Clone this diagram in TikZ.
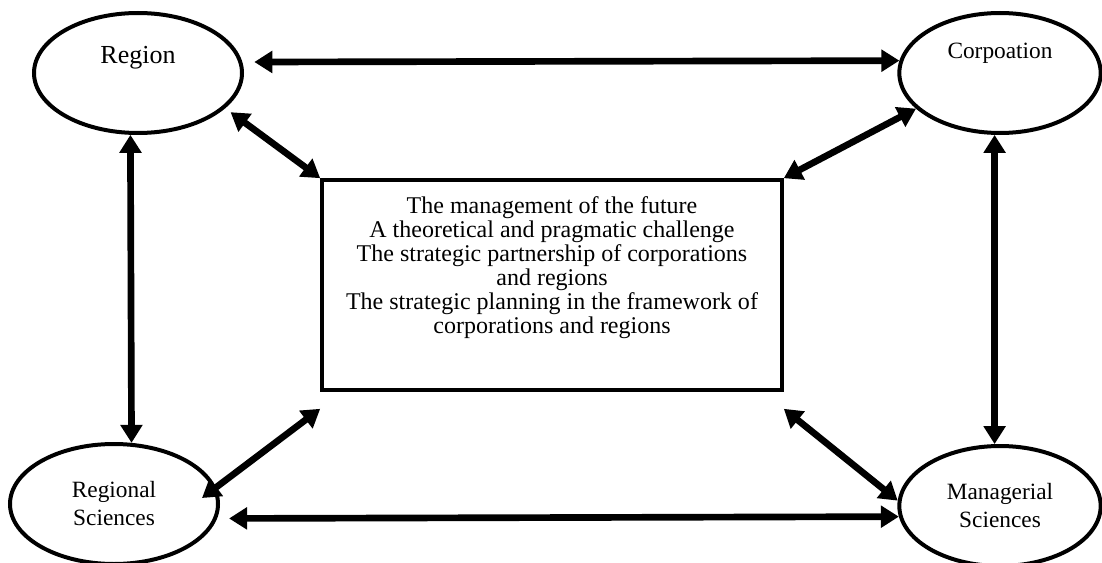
\documentclass[tikz,border=0pt]{standalone}
\usepackage{fontspec}
\setmainfont{Liberation Serif}
\usetikzlibrary{arrows.meta,shapes.geometric}

\begin{document}
\begin{tikzpicture}[
    x=0.75pt,y=-0.75pt,
    field/.style={
      ellipse,draw,line width=3pt,
      minimum width=156pt,minimum height=90pt,
      inner sep=0pt,align=center,
      font=\fontsize{17.5}{21}\selectfont
    },
    core/.style={
      rectangle,draw,line width=2.7pt,
      minimum width=345pt,minimum height=157.5pt,
      align=center,font=\fontsize{18}{18}\selectfont
    },
    link/.style={
      line width=5pt,
      {Triangle[length=13.5pt,width=16pt]}-{Triangle[length=13.5pt,width=16pt]}
    }
  ]
    \useasboundingbox (0,0) rectangle (1102,563);

    \node[field,text depth=27pt,font=\fontsize{19.5}{21}\selectfont] (region) at (138,73) {Region};
    \node[field,text depth=33pt,minimum width=151pt] (corp) at (1000,73) {Corpoation};
    \node[field] (regsci) at (114,504) {Regional\\Sciences};
    \node[field,minimum width=151pt] (mansci) at (1000,506) {Managerial\\Sciences};

    \node[core,text depth=29.5pt] (box) at (552,285) {The management of the future\\
      A theoretical and pragmatic challenge\\
      The strategic partnership of corporations\\
      and regions\\
      The strategic planning in the framework of\\
      corporations and regions};

    \draw[link,shorten <=9pt] (region.6.7) -- (corp.173.3);
    \draw[link,shorten <=9pt] (regsci.352.7) -- (mansci.186.3);
    \draw[link] (region.263.4) -- (regsci.74.2);
    \draw[link] (corp.265) -- (mansci.95.2);

    \draw[link,shorten <=5pt] (region.338) -- (box.north west);
    \draw[link] (corp.203.6) -- (box.north east);
    \draw[link] ([shift={(88,-6)}]regsci.center) -- ([yshift=-12.75pt]box.south west);
    \draw[link] (mansci.177.8) -- ([yshift=-12.75pt]box.south east);
  \end{tikzpicture}
\end{document}
